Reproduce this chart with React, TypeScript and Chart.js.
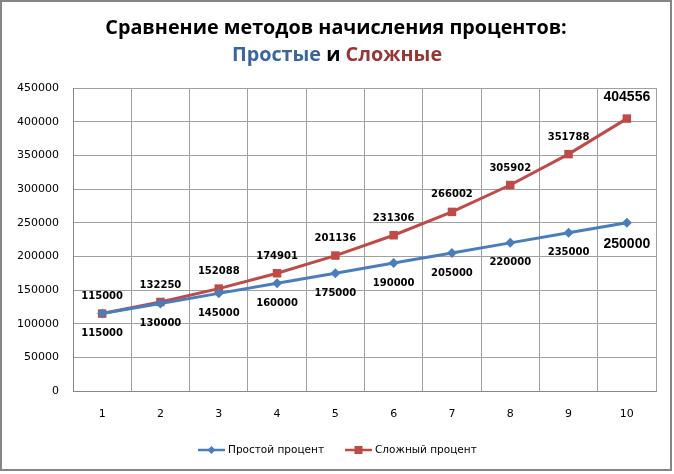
import React, { useEffect, useRef } from "react";
import { Chart, registerables } from "chart.js";

Chart.register(...registerables);

const categories = ["1", "2", "3", "4", "5", "6", "7", "8", "9", "10"];
const simpleValues = [115000, 130000, 145000, 160000, 175000, 190000, 205000, 220000, 235000, 250000];
const compoundValues = [115000, 132250, 152088, 174901, 201136, 231306, 266002, 305902, 351788, 404556];
const yTicks = [0, 50000, 100000, 150000, 200000, 250000, 300000, 350000, 400000, 450000];
const seriesNames = ["Простой процент", "Сложный процент"];
const titleLine1 = "Сравнение методов начисления процентов:";
const titleParts = ["Простые", " и ", "Сложные"];

const BLUE = "#4A7EBB";
const RED = "#BE4B48";

const framePlugin = {
  id: "frameTitleLegend",
  beforeDraw(chart: any) {
    const ctx = chart.ctx;
    ctx.save();
    ctx.fillStyle = "#ffffff";
    ctx.fillRect(0, 0, chart.width, chart.height);
    ctx.restore();
  },
  afterDraw(chart: any) {
    const ctx = chart.ctx;
    ctx.save();
    // frame
    ctx.strokeStyle = "#868686";
    ctx.lineWidth = 2;
    ctx.strokeRect(1, 1, 670, 469);
    // title
    ctx.textAlign = "center";
    ctx.textBaseline = "middle";
    ctx.font = "bold 19.8px 'Open Sans'";
    ctx.fillStyle = "#000";
    ctx.fillText(titleLine1, 336, 28);
    const colors = ["#3A669C", "#000000", "#953735"];
    const widths = titleParts.map((t) => ctx.measureText(t).width);
    const total = widths.reduce((a, b) => a + b, 0);
    let x = 337 - total / 2;
    ctx.textAlign = "left";
    titleParts.forEach((t, i) => {
      ctx.fillStyle = colors[i];
      ctx.fillText(t, x, 55);
      x += widths[i];
    });
    // legend
    const ly = 450;
    ctx.font = "10.5px 'DejaVu Sans'";
    ctx.textBaseline = "middle";
    const items = [
      { x0: 198, color: BLUE, style: "diamond", label: seriesNames[0] },
      { x0: 345, color: RED, style: "square", label: seriesNames[1] },
    ];
    items.forEach((it) => {
      ctx.strokeStyle = it.color;
      ctx.lineWidth = 2.5;
      ctx.beginPath();
      ctx.moveTo(it.x0, ly);
      ctx.lineTo(it.x0 + 27, ly);
      ctx.stroke();
      ctx.fillStyle = it.color;
      const cx = it.x0 + 13.5;
      if (it.style === "diamond") {
        ctx.beginPath();
        ctx.moveTo(cx, ly - 4);
        ctx.lineTo(cx + 4, ly);
        ctx.lineTo(cx, ly + 4);
        ctx.lineTo(cx - 4, ly);
        ctx.closePath();
        ctx.fill();
      } else {
        ctx.fillRect(cx - 4, ly - 4, 8, 8);
      }
      ctx.fillStyle = "#000";
      ctx.fillText(it.label, it.x0 + 30, ly);
    });
    ctx.restore();
  },
  afterDatasetsDraw(chart: any) {
    const ctx = chart.ctx;
    ctx.save();
    ctx.textAlign = "center";
    ctx.textBaseline = "middle";
    ctx.fillStyle = "#000";
    chart.data.datasets.forEach((ds: any, di: number) => {
      const meta = chart.getDatasetMeta(di);
      meta.data.forEach((pt: any, i: number) => {
        const last = i === ds.data.length - 1;
        ctx.font = last ? "bold 14px 'Liberation Sans'" : "bold 10px 'DejaVu Sans'";
        const v = String(ds.data[i]);
        const dy = di === 0 ? (last ? 21 : 20) : last ? -21 : -17;
        ctx.fillText(v, pt.x, pt.y + dy);
      });
    });
    ctx.restore();
  },
};

export default function App() {
  const ref = useRef<HTMLCanvasElement>(null);
  useEffect(() => {
    document.body.style.margin = "0";
    const chart = new Chart(ref.current!, {
      type: "line",
      data: {
        labels: categories,
        datasets: [
          {
            label: seriesNames[0],
            data: simpleValues,
            borderColor: BLUE,
            backgroundColor: BLUE,
            borderWidth: 3,
            pointStyle: "rectRot",
            pointRadius: 5,
            pointBorderWidth: 0,
            tension: 0,
          },
          {
            label: seriesNames[1],
            data: compoundValues,
            borderColor: RED,
            backgroundColor: RED,
            borderWidth: 3,
            pointStyle: "rect",
            pointRadius: 6,
            pointBorderWidth: 0,
            tension: 0,
          },
        ],
      },
      options: {
        responsive: false,
        animation: false,
        layout: { padding: { top: 88, right: 18, bottom: 43, left: 0 } },
        plugins: {
          legend: { display: false },
          tooltip: { enabled: false },
          title: { display: false },
        },
        scales: {
          x: {
            offset: true,
            grid: { offset: true, color: "#A0A0A0", drawTicks: false, lineWidth: 1 },
            border: { color: "#868686" },
            ticks: { color: "#000", font: { family: "DejaVu Sans", size: 11 }, padding: 17 },
            afterFit: (s: any) => {
              s.height = 40;
            },
          },
          y: {
            min: 0,
            max: 450000,
            afterBuildTicks: (s: any) => {
              s.ticks = yTicks.map((v) => ({ value: v }));
            },
            grid: { color: "#A0A0A0", drawTicks: false, lineWidth: 1 },
            border: { color: "#868686" },
            ticks: {
              color: "#000",
              font: { family: "DejaVu Sans", size: 11 },
              padding: 14,
              callback: (v: any) => String(v),
            },
            afterFit: (s: any) => {
              s.width = 73;
            },
          },
        },
      },
      plugins: [framePlugin],
    });
    return () => chart.destroy();
  }, []);
  return (
    <div style={{ position: "absolute", left: 0, top: 0, width: 674, height: 474 }}>
      <canvas ref={ref} width={674} height={474} style={{ display: "block" }} />
    </div>
  );
}
